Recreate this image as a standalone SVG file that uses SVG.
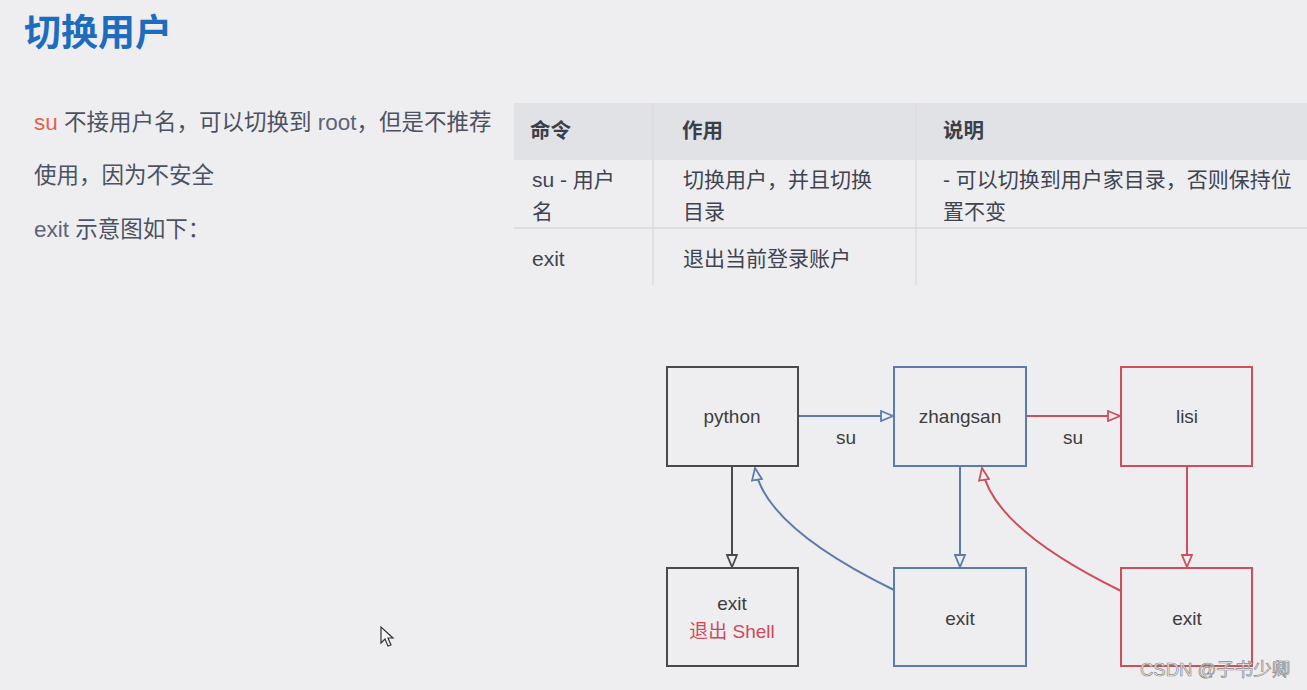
<svg xmlns="http://www.w3.org/2000/svg" width="1307" height="690" viewBox="0 0 1307 690">
<style>
text{font-family:"Liberation Sans","Noto Sans CJK SC",sans-serif}
.title{font-size:37px;font-weight:bold;fill:#1d6cbd}
.body{font-size:22.5px;fill:#4b5263}
.lat{fill:#5c6478}
.red{fill:#e2614e}
.th{font-size:20.5px;font-weight:bold;fill:#3a3f4a}
.td{font-size:21px;fill:#3f4450}
.node{fill:none;stroke-width:2}
.g{stroke:#4a4a4a}
.b{stroke:#5b7cab}
.r{stroke:#cc4f5e}
.lbl{font-size:19px;fill:#3d3d3d;text-anchor:middle}
.conn{fill:none;stroke-width:2}
</style>
<defs>
<marker id="ag" viewBox="0 0 14 12" refX="13" refY="6" markerWidth="14" markerHeight="12" markerUnits="userSpaceOnUse" orient="auto"><path d="M1,1 L13,6 L1,11 Z" fill="#eeeef0" stroke="#4a4a4a" stroke-width="1.8"/></marker>
<marker id="ab" viewBox="0 0 14 12" refX="13" refY="6" markerWidth="14" markerHeight="12" markerUnits="userSpaceOnUse" orient="auto"><path d="M1,1 L13,6 L1,11 Z" fill="#eeeef0" stroke="#5b7cab" stroke-width="1.8"/></marker>
<marker id="ar" viewBox="0 0 14 12" refX="13" refY="6" markerWidth="14" markerHeight="12" markerUnits="userSpaceOnUse" orient="auto"><path d="M1,1 L13,6 L1,11 Z" fill="#eeeef0" stroke="#cc4f5e" stroke-width="1.8"/></marker>
</defs>
<rect width="1307" height="690" fill="#eeeef0"/>

<text class="title" x="24" y="46">切换用户</text>

<text class="body" x="34" y="130"><tspan class="red">su</tspan> 不接用户名，可以切换到 <tspan class="lat">root</tspan>，但是不推荐</text>
<text class="body" x="34" y="183">使用，因为不安全</text>
<text class="body" x="34" y="237"><tspan class="lat">exit</tspan> 示意图如下：</text>

<g id="table">
<rect x="514" y="103" width="793" height="57" fill="#e1e2e6"/>
<line x1="653" y1="103" x2="653" y2="285" stroke="#dcdde0" stroke-width="1.5"/>
<line x1="916" y1="103" x2="916" y2="285" stroke="#dcdde0" stroke-width="1.5"/>
<line x1="514" y1="228" x2="1307" y2="228" stroke="#d6d7da" stroke-width="1.5"/>
<text class="th" x="530" y="138">命令</text>
<text class="th" x="682" y="138">作用</text>
<text class="th" x="943" y="138">说明</text>
<text class="td" x="532" y="187">su - 用户</text>
<text class="td" x="532" y="219">名</text>
<text class="td" x="683" y="187">切换用户，并且切换</text>
<text class="td" x="683" y="219">目录</text>
<text class="td" x="943" y="187">- 可以切换到用户家目录，否则保持位</text>
<text class="td" x="943" y="219">置不变</text>
<text class="td" x="532" y="266">exit</text>
<text class="td" x="683" y="266">退出当前登录账户</text>
</g>

<g id="connectors">
<line class="conn b" x1="798" y1="416" x2="893" y2="416" marker-end="url(#ab)"/>
<line class="conn r" x1="1026" y1="416" x2="1120" y2="416" marker-end="url(#ar)"/>
<line class="conn g" x1="732" y1="467" x2="732" y2="567" marker-end="url(#ag)"/>
<line class="conn b" x1="960" y1="467" x2="960" y2="567" marker-end="url(#ab)"/>
<line class="conn r" x1="1187" y1="467" x2="1187" y2="567" marker-end="url(#ar)"/>
<path class="conn b" d="M894,590 Q765,527 755,468" marker-end="url(#ab)"/>
<path class="conn r" d="M1121,591 Q992,528 982,468" marker-end="url(#ar)"/>
<text class="lbl" x="846" y="444">su</text>
<text class="lbl" x="1073" y="444">su</text>
</g>

<g id="python"><rect class="node g" x="667" y="367" width="131" height="99"/><text class="lbl" x="732" y="423">python</text></g>
<g id="zhangsan"><rect class="node b" x="894" y="367" width="132" height="99"/><text class="lbl" x="960" y="423">zhangsan</text></g>
<g id="lisi"><rect class="node r" x="1121" y="367" width="131" height="99"/><text class="lbl" x="1187" y="423">lisi</text></g>
<g id="exit-shell"><rect class="node g" x="667" y="568" width="131" height="98"/><text class="lbl" x="732" y="610">exit</text><text class="lbl" x="732" y="638" style="fill:#d0485a">退出 Shell</text></g>
<g id="exit-zhangsan"><rect class="node b" x="894" y="568" width="132" height="98"/><text class="lbl" x="960" y="625">exit</text></g>
<g id="exit-lisi"><rect class="node r" x="1121" y="568" width="131" height="98"/><text class="lbl" x="1187" y="625">exit</text></g>

<path d="M381,627 L381,643 L385,639 L388,646 L391,645 L388,638 L393,638 Z" fill="#f4f4f4" stroke="#333" stroke-width="1.2"/>

<text x="1140" y="676" style="font-size:18.5px;fill:#f6f6f6;stroke:#8a8a8a;stroke-width:0.7">CSDN @子书少卿</text>
</svg>
